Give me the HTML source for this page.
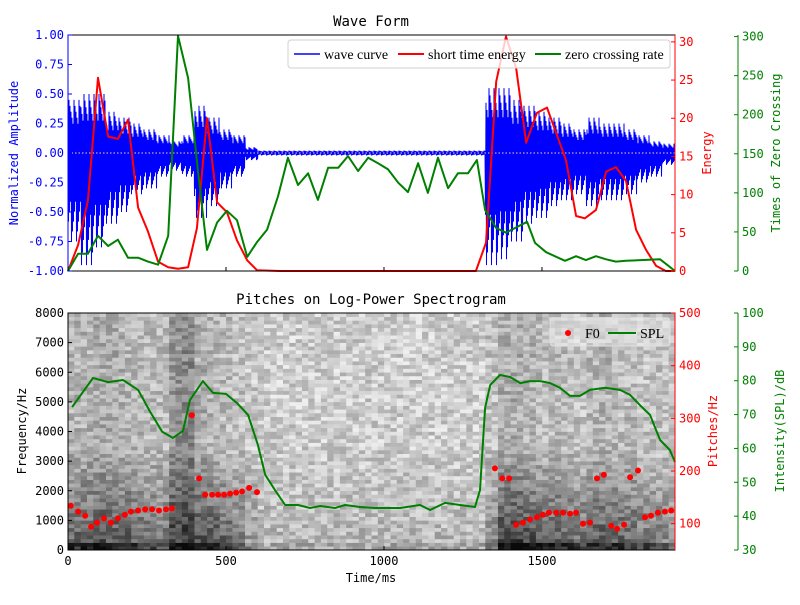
<!DOCTYPE html>
<html><head><meta charset="utf-8">
<style>
html,body{margin:0;padding:0;background:#fff;}
svg text{font-family:"WenQuanYi Zen Hei","DejaVu Sans Mono",sans-serif;font-size:12px;}
.leg{font-family:"Liberation Serif",serif;font-size:14px;}
</style></head>
<body>
<svg id="c" width="800" height="600" viewBox="0 0 800 600" xmlns="http://www.w3.org/2000/svg"></svg>
<script>
// ===== data =====
const waveEnvPos=[.45,.5,.5,.35,.3,.25,.2,.15,.1,.15,.4,.3,.2,.15,.05,.02,.02,.02,.02,.02,.02,.02,.02,.02,.02,.02,.02,.02,.02,.02,.02,.02,.02,.55,.55,.45,.4,.35,.3,.25,.2,.3,.25,.25,.2,.15,.1,.08];
const waveEnvNeg=[.75,.95,.8,.6,.5,.35,.3,.2,.15,.2,.55,.45,.3,.2,.06,.02,.02,.02,.02,.02,.02,.02,.02,.02,.02,.02,.02,.02,.02,.02,.02,.02,.02,.95,.9,.75,.6,.55,.45,.4,.35,.45,.4,.4,.35,.25,.2,.1];
const energyT=[0,32,63,95,127,158,190,222,253,285,317,348,380,408,440,472,503,535,567,598,671,1272,1291,1323,1355,1386,1418,1450,1484,1516,1576,1608,1636,1671,1703,1734,1766,1798,1829,1861,1892,1921];
const energyV=[0,3.4,9.2,25.3,17.6,17.3,19.8,8.3,5.2,1.2,0.5,0.3,0.5,5.6,20,9,7.7,4,1.4,0.1,0,0,0,3.7,24.8,30.7,26.6,16.8,20.7,21.4,14.5,7.2,6.9,8,13,13.6,11.8,5.4,2.8,0.7,0,0];
const zcrT=[0,32,63,95,127,158,190,222,253,285,317,348,380,411,440,472,503,535,567,598,630,665,696,728,760,791,823,855,886,918,950,981,1013,1045,1076,1108,1139,1171,1203,1234,1266,1294,1320,1355,1386,1453,1478,1513,1573,1608,1639,1671,1703,1734,1766,1874,1921];
const zcrV=[0,22,22,45,32,40,17,17,12,8,45,301,247,129,27,62,77,65,18,37,53,96,145,110,125,91,132,132,147,128,145,138,130,113,101,138,100,145,106,125,125,142,78,55,49,63,36,24,13,19,14,19,15,12,13,15,0];
const specLow=[.55,.6,.65,.6,.6,.55,.5,.45,.55,.6,.65,.65,.6,.5,.3,.15,.15,.15,.15,.15,.15,.15,.15,.15,.15,.15,.15,.15,.15,.15,.15,.15,.15,.35,.7,.75,.7,.7,.65,.6,.55,.6,.6,.6,.55,.5,.45,.4];
const specHigh=[.3,.3,.35,.35,.3,.3,.25,.25,.55,.6,.35,.3,.25,.2,.15,.12,.12,.12,.12,.12,.12,.12,.12,.12,.12,.12,.12,.12,.12,.12,.12,.12,.12,.2,.35,.35,.3,.25,.25,.25,.2,.3,.3,.25,.25,.2,.2,.2];
const splT=[13,79,127,174,222,260,298,332,364,386,427,459,500,535,570,601,624,655,687,728,766,798,845,877,924,972,1051,1114,1146,1193,1241,1288,1304,1320,1336,1367,1399,1431,1462,1494,1526,1557,1589,1620,1652,1700,1747,1779,1810,1842,1874,1905,1921];
const splV=[72.2,80.8,79.6,80.2,77.3,70.8,64.9,63.1,65.2,74.3,79.9,76.4,76.1,73.4,69.9,61,52.2,47.7,43.3,43.3,42.4,43,42.4,43.3,42.7,42.4,42.4,43.3,41.8,43.9,43.3,42.7,47.7,72,78.7,81.7,81.1,79.3,79.9,79.9,79.3,77.9,75.5,75.5,77.3,77.9,77.3,75.8,72.8,69.9,62.5,59.5,56];
const f0T=[9,32,54,73,92,114,136,158,180,199,222,244,266,288,310,329,392,415,434,456,475,494,513,532,551,573,598,1351,1374,1396,1418,1440,1462,1484,1503,1522,1545,1567,1589,1608,1630,1652,1674,1696,1719,1738,1760,1779,1804,1826,1845,1867,1889,1909];
const f0V=[134,123,115,94,102,110,102,110,117,123,125,127,127,125,127,129,306,186,155,155,155,155,157,159,161,168,160,205,186,186,98,102,108,112,117,121,121,121,119,121,100,102,186,193,96,90,98,188,201,112,115,121,123,125];
const xTicks=[0,500,1000,1500];
const ampTicks=[-1,-0.75,-0.5,-0.25,0,0.25,0.5,0.75,1];
const enTicks=[0,5,10,15,20,25,30];
const zcTicks=[0,50,100,150,200,250,300];
const fqTicks=[0,1000,2000,3000,4000,5000,6000,7000,8000];
const pTicks=[100,200,300,400,500];
const dbTicks=[30,40,50,60,70,80,90,100];

// ===== axes =====
const L=68,R=675,T1=35,B1=271,T2=313,B2=550,TMAX=1921;
const X=t=>L+(t/TMAX)*(R-L);
const yAmp=v=>B1-(v+1)/2*(B1-T1);
const yEn=v=>B1-v/30.9*(B1-T1);
const yZc=v=>B1-v/302*(B1-T1);
const yFq=v=>B2-v/8000*(B2-T2);
const yP=v=>B2-(v-50)/450*(B2-T2);
const yDb=v=>B2-(v-30)/70*(B2-T2);
const S=document.getElementById('c');const NS='http://www.w3.org/2000/svg';
function mk(tag,a,parent){const e=document.createElementNS(NS,tag);for(const k in a)e.setAttribute(k,a[k]);(parent||S).appendChild(e);return e;}
function tx(x,y,s,a){const e=mk('text',Object.assign({x:x,y:y},a||{}));e.textContent=s;return e;}
function hash(a,b){let h=(a*374761393+b*668265263)|0;h=(h^(h>>>13))*1274126177|0;return ((h^(h>>>16))>>>0)%1000/1000;}

// ===== spectrogram =====
const gSpec=mk('g',{});


const SUB=2,colW=(R-L)/specLow.length/SUB, rows=64, rowH=(B2-T2)/rows;
for(let c=0;c<specLow.length*SUB;c++){
  const i=Math.floor(c/SUB);
  for(let r=0;r<rows;r++){
    const f=(r+0.5)*125;
    let d=specHigh[i]*0.8+specLow[i]*Math.max(0,1-f/3500)*0.9;
    if(f<300)d+=specLow[i]*0.5;
    const tex=(hash(c,r)-0.5)*70;
    let g=Math.round(222-175*d+tex);g=Math.max(10,Math.min(252,g));
    mk('rect',{x:(L+c*colW).toFixed(2),y:(B2-(r+1)*rowH).toFixed(2),width:(colW+0.4).toFixed(2),height:(rowH+0.3).toFixed(2),fill:`rgb(${g},${g},${g})`},gSpec);
  }
}

// ===== waveform =====
let wp='';const npx=R-L;
for(let k=0;k<=npx*2;k++){
  const i=Math.min(waveEnvPos.length-1,Math.floor((k/2)/(npx/waveEnvPos.length)));
  const m=0.55+0.45*(((k*7)%5)/4);
  const v=(k%2===0)?waveEnvPos[i]*m:-waveEnvNeg[i]*m;
  wp+=(k?'L':'M')+(L+k/2)+','+yAmp(v).toFixed(1);
}
const wave=mk('path',{d:wp,fill:'none',stroke:'#0000ff','stroke-width':1});


mk('line',{x1:L,x2:R,y1:yAmp(0),y2:yAmp(0),stroke:'#ffd0a0','stroke-dasharray':'1.5,2','stroke-width':1});

function poly(ts,vs,fy,col,name){
  const p=mk('polyline',{points:ts.map((t,i)=>X(t).toFixed(1)+','+fy(vs[i]).toFixed(1)).join(' '),fill:'none',stroke:col,'stroke-width':2,'stroke-linejoin':'round'});
  
  
}
poly(energyT,energyV,yEn,'#ff0000','short-time-energy-line');
poly(zcrT,zcrV,yZc,'#008000','zero-crossing-rate-line');
poly(splT,splV,yDb,'#008000','spl-line');
f0T.forEach((t,i)=>{const d=mk('circle',{cx:X(t).toFixed(1),cy:yP(f0V[i]).toFixed(1),r:3,fill:'#ff0000'});

});

// ===== frames & ticks =====
function frame(T,B,name){const r=mk('rect',{x:L,y:T,width:R-L,height:B-T,fill:'none',stroke:'#000','stroke-width':1});

}
frame(T1,B1,'top-plot-frame');frame(T2,B2,'bottom-plot-frame');
mk('line',{x1:L,x2:L,y1:T1,y2:B1,stroke:'#0000ff'});
mk('line',{x1:R,x2:R,y1:T1,y2:B1,stroke:'#ff0000'});
mk('line',{x1:738,x2:738,y1:T1,y2:B1,stroke:'#008000'});
mk('line',{x1:R,x2:R,y1:T2,y2:B2,stroke:'#ff0000'});
mk('line',{x1:738,x2:738,y1:T2,y2:B2,stroke:'#008000'});
function ticksY(arr,fy,sx,dir,col,fmt,anchor,lx,name){
  arr.forEach(v=>{const y=fy(v);mk('line',{x1:sx,x2:sx+dir*4,y1:y,y2:y,stroke:col});
  const t=tx(lx,y+4,fmt(v),{fill:col,'text-anchor':anchor});
  
  });
}
ticksY(ampTicks,yAmp,L,1,'#0000ff',v=>v.toFixed(2),'end',L-4,'amplitude-tick-label');
ticksY(enTicks,yEn,R,-1,'#ff0000',v=>String(v),'start',R+4,'energy-tick-label');
ticksY(zcTicks,yZc,738,-1,'#008000',v=>String(v),'start',742,'zero-crossing-tick-label');
ticksY(fqTicks,yFq,L,1,'#000',v=>String(v),'end',L-4,'frequency-tick-label');
ticksY(pTicks,yP,R,-1,'#ff0000',v=>String(v),'start',R+4,'pitch-tick-label');
ticksY(dbTicks,yDb,738,-1,'#008000',v=>String(v),'start',742,'intensity-tick-label');
xTicks.forEach(v=>{const x=X(v);
  mk('line',{x1:x,x2:x,y1:B1,y2:B1-4,stroke:'#000'});mk('line',{x1:x,x2:x,y1:B2,y2:B2-4,stroke:'#000'});
  const t=tx(x,B2+15,String(v),{'text-anchor':'middle'});
  
  });
</script>
<svg width="800" height="600" style="position:absolute;left:0;top:0" xmlns="http://www.w3.org/2000/svg">
<text x="371" y="26" text-anchor="middle" style="font-size:14px">Wave Form</text>
<text x="371" y="304" text-anchor="middle" style="font-size:14px">Pitches on Log-Power Spectrogram</text>
<text x="371" y="582" text-anchor="middle">Time/ms</text>
<text transform="translate(18,153) rotate(-90)" text-anchor="middle" fill="#0000ff">Normalized Amplitude</text>
<text transform="translate(711,153) rotate(-90)" text-anchor="middle" fill="#ff0000">Energy</text>
<text transform="translate(780,153) rotate(-90)" text-anchor="middle" fill="#008000">Times of Zero Crossing</text>
<text transform="translate(26,431) rotate(-90)" text-anchor="middle">Frequency/Hz</text>
<text transform="translate(717,431) rotate(-90)" text-anchor="middle" fill="#ff0000">Pitches/Hz</text>
<text transform="translate(784,431) rotate(-90)" text-anchor="middle" fill="#008000">Intensity(SPL)/dB</text>
<g>
<rect x="288" y="40" width="382" height="28" rx="3" fill="rgba(255,255,255,0.8)" stroke="#d0d0d0"/>
<line x1="294" x2="320" y1="54" y2="54" stroke="#0000ff" stroke-width="1.5"/>
<text class="leg" x="324" y="59">wave curve</text>
<line x1="398" x2="424" y1="54" y2="54" stroke="#ff0000" stroke-width="2"/>
<text class="leg" x="428" y="59">short time energy</text>
<line x1="535" x2="561" y1="54" y2="54" stroke="#008000" stroke-width="2"/>
<text class="leg" x="565" y="59">zero crossing rate</text>
</g>
<g>
<rect x="550" y="318" width="120" height="28" rx="3" fill="rgba(240,240,240,0.5)" stroke="#e0e0e0"/>
<circle cx="568" cy="333" r="3" fill="#ff0000"/>
<text class="leg" x="585" y="338">F0</text>
<line x1="608" x2="636" y1="333" y2="333" stroke="#008000" stroke-width="2"/>
<text class="leg" x="640" y="338">SPL</text>
</g>
</svg>
</body></html>
